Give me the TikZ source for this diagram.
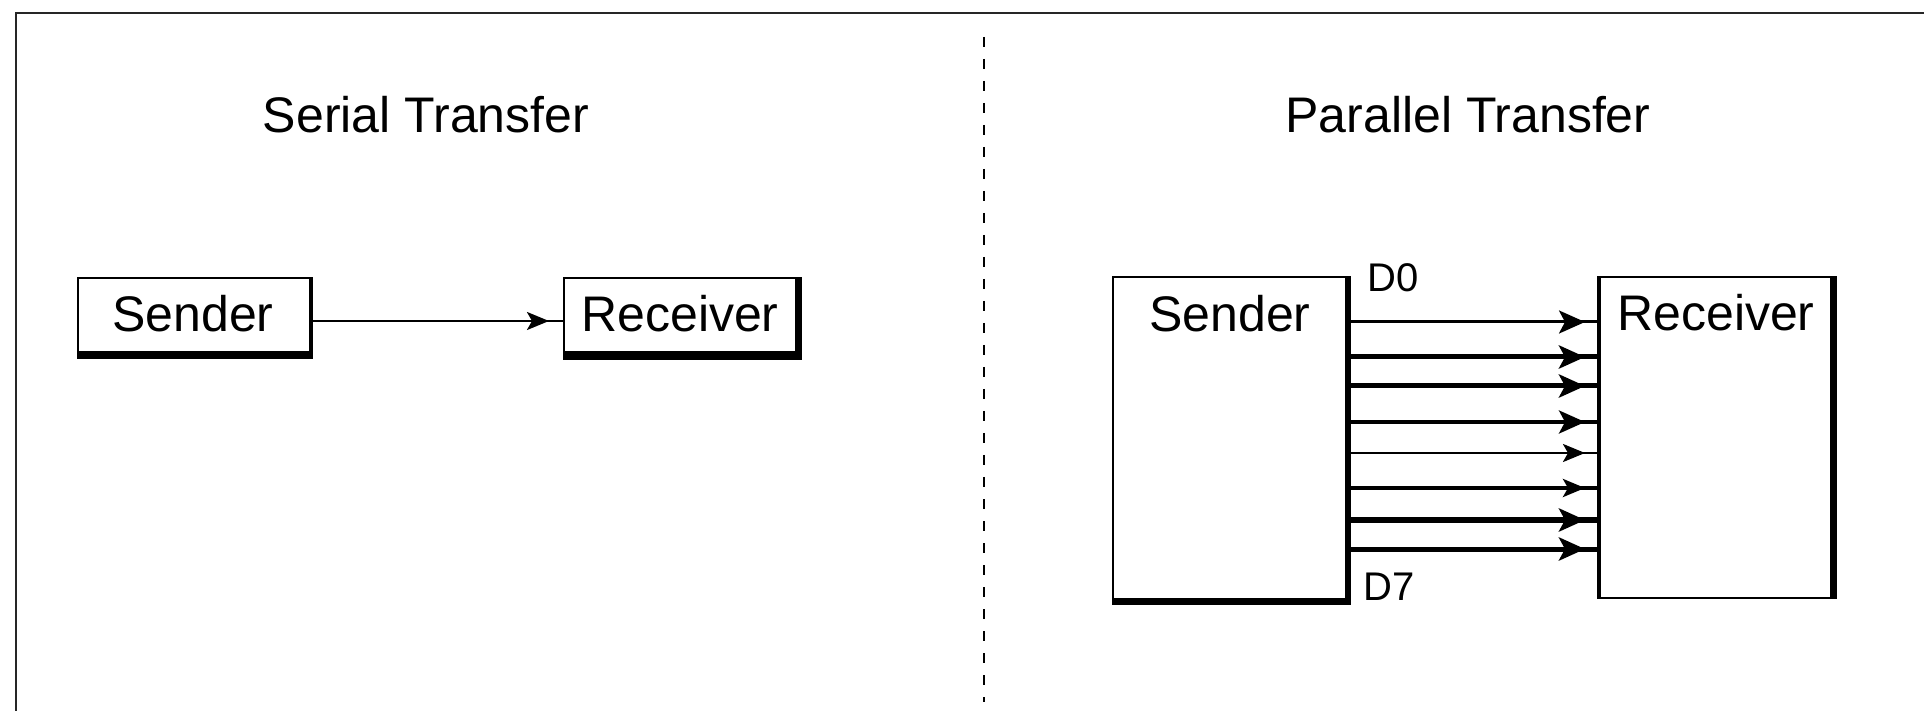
\documentclass[tikz,border=0pt]{standalone}
\usepackage{fontspec}
\setmainfont{Liberation Sans}
\usetikzlibrary{arrows.meta,decorations.markings,calc}
\begin{document}
\begin{tikzpicture}[x=0.5pt,y=-0.5pt,
  lbl/.style={font=\fontsize{25pt}{30pt}\selectfont, inner sep=0pt, anchor=base},
  dlbl/.style={font=\fontsize{20pt}{24pt}\selectfont, inner sep=0pt, anchor=base west},
  box/.style={draw, line width=1pt, inner sep=0pt, outer sep=0pt},
  tipbig/.style={postaction={decorate}, decoration={markings,
      mark=at position -#1 with {\arrow{Stealth[length=13pt,width=11.5pt,inset=3pt]}}}},
  tipsmall/.style={postaction={decorate}, decoration={markings,
      mark=at position -#1 with {\arrow{Stealth[length=11pt,width=9pt,inset=2.5pt]}}}},
  wthin/.style={line width=1.25pt},
  wmed/.style={line width=1.75pt},
  wthick/.style={line width=2.5pt}
]
\useasboundingbox (0,0) rectangle (1924,711);
\clip (0,0) rectangle (1924,711);

% outer frame (only top and left visible)
\draw[line width=1pt, black!85] (16,730) -- (16,13) -- (1940,13);

% divider
\coordinate (dtop) at (984,37);
\coordinate (dbot) at (984,702);
\draw[line width=1pt, dash pattern=on 5pt off 6pt] (dtop) -- (dbot);

% titles
\node[lbl] (t1) at (426,133) {Serial Transfer};
\node[lbl] (t2) at (1468,133) {Parallel Transfer};

% ---------------- serial ----------------
\node[box, minimum width=116.5pt, minimum height=38.5pt] (ss) at (194.5,316.5) {};
\fill ($(ss.south west)+(-1,-4)$) rectangle ($(ss.south east)+(2,4)$);
\fill ($(ss.north east)+(-2,-1)$) rectangle ($(ss.south east)+(2,0)$);
\node[lbl] (sst) at (193,332) {Sender};

\node[box, minimum width=116.5pt, minimum height=38.5pt] (sr) at (680.5,316.5) {};
\fill ($(sr.south west)+(-1,-4)$) rectangle ($(sr.south east)+(5,5)$);
\fill ($(sr.north east)+(-2,-1)$) rectangle ($(sr.south east)+(5,0)$);
\node[lbl] (srt) at (680,332) {Receiver};

\draw[wthin, tipsmall=7.5pt] ($(ss.east)+(0,4.5)$) -- ($(sr.west)+(0,4.5)$);

% ---------------- parallel ----------------
\node[box, minimum width=117pt, minimum height=161.5pt] (ps) at (1230,438.5) {};
\fill ($(ps.north east)+(-2,-1)$) rectangle ($(ps.south east)+(4,0)$);
\fill ($(ps.south west)+(-1,-2)$) rectangle ($(ps.south east)+(4,5)$);
\node[lbl] (pst) at (1230,332) {Sender};

\node[box, minimum width=117pt, minimum height=160.5pt] (pr) at (1715,437.5) {};
\fill ($(pr.north west)+(-1,-1)$) rectangle ($(pr.south west)+(3,1)$);
\fill ($(pr.north east)+(-2,-1)$) rectangle ($(pr.south east)+(5,1)$);
\node[lbl] (prt) at (1716,331) {Receiver};

\node[dlbl] (d0) at (1367,292) {D0};
\node[dlbl] (d7) at (1363,600) {D7};

\draw[line width=1.5pt, tipbig=6.5pt] (ps.east |- 0,322) -- (pr.west |- 0,322);
\draw[wthick, tipbig=6.5pt] (ps.east |- 0,357) -- (pr.west |- 0,357);
\draw[wthick, tipbig=6.5pt] (ps.east |- 0,386) -- (pr.west |- 0,386);
\draw[wmed, tipbig=6.5pt] (ps.east |- 0,422) -- (pr.west |- 0,422);
\draw[wthin, tipsmall=6.5pt] (ps.east |- 0,453) -- (pr.west |- 0,453);
\draw[wmed, tipsmall=6.5pt] (ps.east |- 0,488) -- (pr.west |- 0,488);
\draw[line width=2.75pt, tipbig=6.5pt] (ps.east |- 0,520) -- (pr.west |- 0,520);
\draw[wthick, tipbig=6.5pt] (ps.east |- 0,549) -- (pr.west |- 0,549);
\end{tikzpicture}
\end{document}
